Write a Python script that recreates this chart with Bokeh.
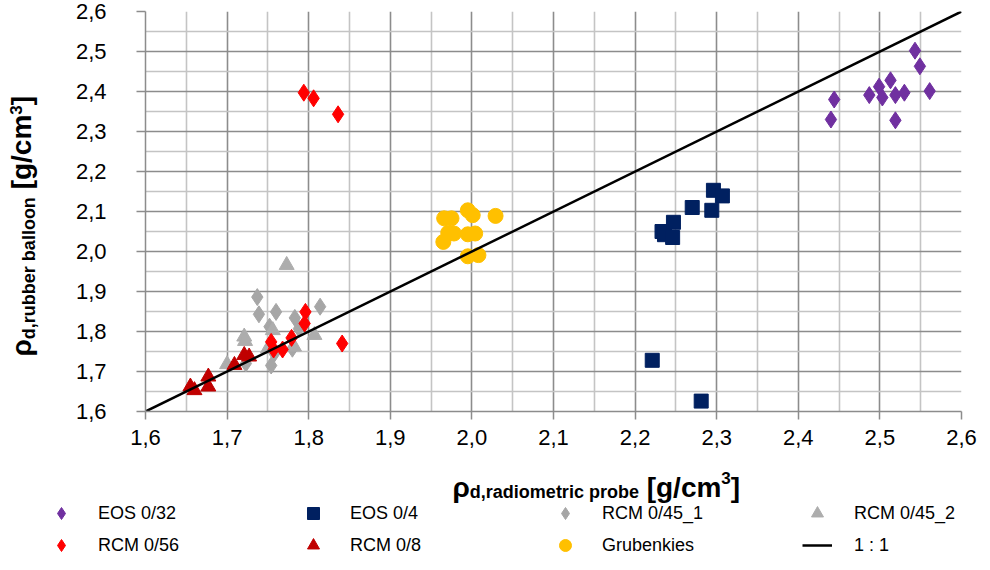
import math
from bokeh.plotting import figure
from bokeh.layouts import column, row
from bokeh.models import FixedTicker, Legend, LegendItem, Label, Range1d
from bokeh.embed import file_html
from bokeh.resources import INLINE

# ---------------- data ----------------
x_ticks = [1.6, 1.7, 1.8, 1.9, 2.0, 2.1, 2.2, 2.3, 2.4, 2.5, 2.6]
x_tick_labels = ["1,6", "1,7", "1,8", "1,9", "2,0", "2,1", "2,2", "2,3", "2,4", "2,5", "2,6"]
y_ticks = [1.6, 1.7, 1.8, 1.9, 2.0, 2.1, 2.2, 2.3, 2.4, 2.5, 2.6]
y_tick_labels = ["1,6", "1,7", "1,8", "1,9", "2,0", "2,1", "2,2", "2,3", "2,4", "2,5", "2,6"]
minor_ticks = [1.65, 1.75, 1.85, 1.95, 2.05, 2.15, 2.25, 2.35, 2.45, 2.55]

eos032_x = [2.440, 2.444, 2.487, 2.499, 2.503, 2.513, 2.519, 2.519, 2.530, 2.543, 2.549, 2.561]
eos032_y = [2.330, 2.380, 2.391, 2.412, 2.385, 2.428, 2.391, 2.328, 2.397, 2.502, 2.463, 2.401]

eos04_x = [2.221, 2.233, 2.236, 2.246, 2.247, 2.270, 2.281, 2.294, 2.296, 2.307]
eos04_y = [1.728, 2.050, 2.042, 2.035, 2.073, 2.110, 1.626, 2.103, 2.153, 2.139]

rcm045_1_x = [1.737, 1.739, 1.760, 1.814, 1.783, 1.752, 1.788, 1.754, 1.758, 1.723, 1.780]
rcm045_1_y = [1.886, 1.843, 1.849, 1.862, 1.834, 1.812, 1.807, 1.715, 1.745, 1.720, 1.757]

rcm045_2_x = [1.773, 1.721, 1.722, 1.807, 1.782, 1.700, 1.750, 1.756]
rcm045_2_y = [1.966, 1.787, 1.776, 1.791, 1.762, 1.718, 1.757, 1.803]

rcm056_x = [1.794, 1.806, 1.836, 1.796, 1.795, 1.779, 1.754, 1.757, 1.768, 1.841]
rcm056_y = [2.397, 2.383, 2.343, 1.849, 1.820, 1.784, 1.774, 1.755, 1.755, 1.770]

rcm08_x = [1.655, 1.660, 1.677, 1.677, 1.709, 1.721, 1.727]
rcm08_y = [1.662, 1.653, 1.687, 1.662, 1.716, 1.741, 1.737]

gruben_x = [1.965, 1.966, 1.971, 1.975, 1.978, 1.995, 1.995, 1.995, 2.001, 2.004, 2.008, 2.029]
gruben_y = [2.024, 2.083, 2.047, 2.083, 2.045, 2.103, 2.043, 1.988, 2.091, 2.045, 1.991, 2.089]

line_x = [1.6, 2.6]
line_y = [1.6, 2.6]

series = [
    ("EOS 0/32", eos032_x, eos032_y, "diamond", 17, "#7030A0"),
    ("EOS 0/4", eos04_x, eos04_y, "square", 14, "#002060"),
    ("RCM 0/45_1", rcm045_1_x, rcm045_1_y, "diamond", 17, "#A6A6A6"),
    ("RCM 0/45_2", rcm045_2_x, rcm045_2_y, "triangle", 15, "#ADADAD"),
    ("RCM 0/56", rcm056_x, rcm056_y, "diamond", 17, "#FF0000"),
    ("RCM 0/8", rcm08_x, rcm08_y, "triangle", 15, "#C00000"),
    ("Grubenkies", gruben_x, gruben_y, "circle", 15, "#FFC000"),
]

# ---------------- geometry ----------------
TOTAL_W = 978
LEFT_W = 60          # strip holding the y title
MAIN_H = 458
BOTTOM_H = 96        # strip holding x title + legend
FRAME_L = 145
FRAME_T = 11
FW, FH = 816, 400
FRAME_B = MAIN_H - FRAME_T - FH
FONT = "Liberation Sans"

main_w = TOTAL_W - LEFT_W
p = figure(width=main_w, height=MAIN_H, x_range=Range1d(1.6, 2.6), y_range=Range1d(1.6, 2.6),
           output_backend="svg", toolbar_location=None,
           min_border_left=FRAME_L - LEFT_W, min_border_right=main_w - (FRAME_L - LEFT_W) - FW,
           min_border_top=FRAME_T, min_border_bottom=FRAME_B)
p.outline_line_color = None

for ax, ticks, labels in ((p.xaxis[0], x_ticks, x_tick_labels), (p.yaxis[0], y_ticks, y_tick_labels)):
    ax.ticker = FixedTicker(ticks=ticks, minor_ticks=minor_ticks)
    ax.major_label_overrides = {t: l for t, l in zip(ticks, labels)}
    ax.axis_line_color = "#8C8C8C"
    ax.axis_line_width = 1.5
    ax.major_tick_line_color = "#8C8C8C"
    ax.major_tick_line_width = 1.5
    ax.major_tick_in = 0
    ax.minor_tick_in = 0
    ax.minor_tick_out = 0
    ax.major_label_text_font = FONT
    ax.major_label_text_font_size = "22px"
    ax.major_label_text_color = "black"
p.xaxis[0].major_tick_out = 8
p.yaxis[0].major_tick_out = 9
p.xaxis[0].major_label_standoff = 10
p.yaxis[0].major_label_standoff = 30

for g, ticks in ((p.xgrid[0], x_ticks), (p.ygrid[0], y_ticks)):
    g.ticker = FixedTicker(ticks=ticks, minor_ticks=minor_ticks)
    g.grid_line_color = "#8C8C8C"
    g.grid_line_width = 1.6
    g.minor_grid_line_color = "#C4C4C4"
    g.minor_grid_line_width = 1.6

for name, xs, ys, mk, sz, col in series:
    p.scatter(xs, ys, marker=mk, size=sz, color=col)
p.line(line_x, line_y, line_color="black", line_width=2.5)

# ---------------- text helpers ----------------
EM = {"d": .611, ",": .278, "r": .389, "a": .556, "i": .278, "o": .611, "m": .889,
      "e": .556, "t": .333, "c": .556, " ": .278, "p": .611, "b": .611, "u": .611,
      "l": .278, "n": .611, "[": .333, "g": .611, "/": .278, "]": .333, "3": .556,
      "ρ": .62}


def tw(s, size):
    return sum(EM.get(ch, .6) for ch in s) * size


MAIN, SUB, SUP = 28, 18, 17
GAP = 0.278 * MAIN


def title_parts(sub):
    # (text, font size, baseline shift (+ = down), gap before)
    return [("ρ", MAIN, 0, 0), (sub, SUB, 4, 0), ("[g/cm", MAIN, 0, GAP),
            ("3", SUP, -10, 0), ("]", MAIN, 0, 0)]


def blank(w, h, top=0, bottom=0):
    f = figure(width=w, height=h, x_range=Range1d(0, w), y_range=Range1d(0, h - top - bottom),
               output_backend="svg", toolbar_location=None,
               x_axis_location=None, y_axis_location=None, min_border=0,
               min_border_top=top, min_border_bottom=bottom)
    f.outline_line_color = None
    f.xgrid.visible = False
    f.ygrid.visible = False
    return f


# ---------------- y title strip (frame aligned with the main frame) ----------------
left = blank(LEFT_W, MAIN_H, top=FRAME_T, bottom=FRAME_B)
cy = 356.0          # reading start (bottom), measured from the top of the strip
basex = 31.0        # baseline of the rotated main text
for s, sz, shift, gap in title_parts("d,rubber balloon"):
    cy -= gap
    length = tw(s, sz)
    centre_y = cy - length / 2
    centre_x = basex + shift - 0.35 * sz
    left.add_layout(Label(x=centre_x, y=(FRAME_T + FH) - centre_y, text=s, text_font=FONT,
                          text_font_style="bold", text_font_size=f"{sz}px", angle=math.pi / 2,
                          text_align="center", text_baseline="middle", text_color="black"))
    cy -= length

# ---------------- bottom strip: x title + legend ----------------
bot = blank(TOTAL_W, BOTTOM_H)
cx = 452.0
base = 487.0 - MAIN_H
for s, sz, shift, gap in title_parts("d,radiometric probe"):
    cx += gap
    bot.add_layout(Label(x=cx, y=BOTTOM_H - (base + shift), text=s, text_font=FONT,
                         text_font_style="bold", text_font_size=f"{sz}px",
                         text_align="left", text_baseline="alphabetic", text_color="black"))
    cx += tw(s, sz)

leg_r = []
for name, xs, ys, mk, sz, col in series:
    leg_r.append((name, bot.scatter(xs, ys, marker=mk, size=sz, color=col, visible=False)))
leg_r.append(("1 : 1", bot.line(line_x, line_y, line_color="black", line_width=2.5, visible=False)))

leg_common = dict(orientation="horizontal", glyph_width=30, glyph_height=30,
                  label_height=30, label_width=105, label_standoff=22, spacing=95,
                  padding=0, margin=0, border_line_color=None, background_fill_alpha=0,
                  inactive_fill_alpha=0,
                  label_text_font=FONT, label_text_font_size="18px",
                  label_text_color="black")
order1 = ["EOS 0/32", "EOS 0/4", "RCM 0/45_1", "RCM 0/45_2"]
order2 = ["RCM 0/56", "RCM 0/8", "Grubenkies", "1 : 1"]
rmap = dict(leg_r)
leg1 = Legend(items=[LegendItem(label=n, renderers=[rmap[n]]) for n in order1],
              location=(46, 26), **leg_common)
leg2 = Legend(items=[LegendItem(label=n, renderers=[rmap[n]]) for n in order2],
              location=(46, -6), **leg_common)
bot.add_layout(leg1)
bot.add_layout(leg2)

layout = column(row(left, p), bot)
open("out.html", "w").write(file_html(layout, INLINE))
